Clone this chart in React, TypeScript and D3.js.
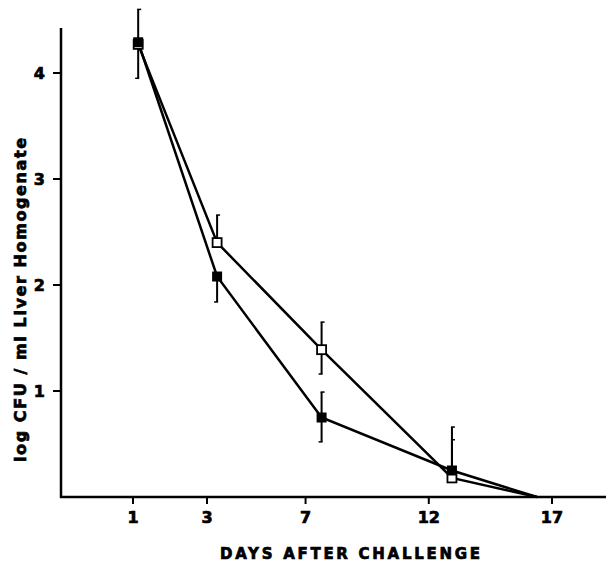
import React from "react";
import * as d3 from "d3";

// Tick labels on the x axis (days after challenge)
const xTickValues = [1, 3, 7, 12, 17];
const yTickValues = [1, 2, 3, 4];

// Sample positions
const sampleDays = [1.14, 3.41, 7.65, 12.94, 16.39];

// Filled-square series
const filledValues = [4.29, 2.08, 0.75, 0.25, 0];
const filledHigh: (number | null)[] = [4.6, null, 0.99, 0.66, null];
const filledLow: (number | null)[] = [3.95, 1.84, 0.52, null, null];

// Open-square series
const openValues = [4.27, 2.4, 1.39, 0.18, 0];
const openHigh: (number | null)[] = [null, 2.66, 1.65, 0.54, null];
const openLow: (number | null)[] = [null, null, 1.16, null, null];

const W = 606;
const H = 563;
const FONT = "'DejaVu Sans', 'Liberation Sans', sans-serif";

export default function App() {
  const x = d3.scaleLinear().domain([1, 3, 17]).range([133, 207, 552]);
  const y = d3.scaleLinear().domain([0, 4]).range([497, 73]);
  const axisLeft = 61;
  const axisBottom = y(0);

  const line = d3
    .line<number>()
    .x((_, i) => x(sampleDays[i]))
    .y((d) => y(d));

  const bars = (vals: number[], hi: (number | null)[], lo: (number | null)[], key: string) =>
    vals.map((v, i) => {
      const cx = x(sampleDays[i]);
      const els: React.ReactNode[] = [];
      if (hi[i] != null) {
        const yt = y(hi[i] as number);
        els.push(
          <g key={`${key}h${i}`}>
            <line x1={cx} x2={cx} y1={y(v)} y2={yt} stroke="#000" strokeWidth={2} />
            <line x1={cx - 1} x2={cx + 3} y1={yt} y2={yt} stroke="#000" strokeWidth={1.5} />
          </g>
        );
      }
      if (lo[i] != null) {
        const yb = y(lo[i] as number);
        els.push(
          <g key={`${key}l${i}`}>
            <line x1={cx} x2={cx} y1={y(v)} y2={yb} stroke="#000" strokeWidth={2} />
            <line x1={cx - 3} x2={cx + 1} y1={yb} y2={yb} stroke="#000" strokeWidth={1.5} />
          </g>
        );
      }
      return els;
    });

  const lastIdx = sampleDays.length - 1;
  const heavy = { stroke: "#000", strokeWidth: 0.7 };

  return (
    <svg
      width={W}
      height={H}
      viewBox={`0 0 ${W} ${H}`}
      style={{ position: "absolute", left: 0, top: 0, background: "#fff" }}
    >
      <rect x={0} y={0} width={W} height={H} fill="#fff" />
      {/* axes */}
      <line x1={axisLeft} x2={axisLeft} y1={28} y2={axisBottom + 1} stroke="#000" strokeWidth={2.5} />
      <line x1={axisLeft - 1} x2={W} y1={axisBottom} y2={axisBottom} stroke="#000" strokeWidth={2.5} />

      {/* y ticks */}
      {yTickValues.map((t) => (
        <g key={`yt${t}`}>
          <line x1={axisLeft - 8} x2={axisLeft} y1={y(t)} y2={y(t)} stroke="#000" strokeWidth={2} />
          <text
            x={45}
            y={y(t) + 6}
            textAnchor="end"
            fontFamily={FONT}
            fontWeight="bold"
            fontSize={16}
            {...heavy}
          >
            {t}
          </text>
        </g>
      ))}

      {/* x ticks */}
      {xTickValues.map((t) => (
        <g key={`xt${t}`}>
          <line x1={x(t)} x2={x(t)} y1={axisBottom} y2={axisBottom + 7} stroke="#000" strokeWidth={2} />
          <text
            x={x(t)}
            y={523}
            textAnchor="middle"
            fontFamily={FONT}
            fontWeight="bold"
            fontSize={16}
            {...heavy}
          >
            {t}
          </text>
        </g>
      ))}

      {/* axis titles */}
      <text
        x={220}
        y={559}
        textLength={260}
        lengthAdjust="spacing"
        fontFamily={FONT}
        fontWeight="bold"
        fontSize={15}
        {...heavy}
      >
        DAYS AFTER CHALLENGE
      </text>
      <text
        transform="translate(26,462) rotate(-90)"
        x={0}
        y={0}
        textLength={324}
        lengthAdjust="spacing"
        fontFamily={FONT}
        fontWeight="bold"
        fontSize={16}
        {...heavy}
      >
        log CFU / ml Liver Homogenate
      </text>

      {/* lines */}
      <path d={line(openValues) || ""} fill="none" stroke="#000" strokeWidth={2.5} />
      <path d={line(filledValues) || ""} fill="none" stroke="#000" strokeWidth={2.5} />

      {/* error bars */}
      {bars(openValues, openHigh, openLow, "o")}
      {bars(filledValues, filledHigh, filledLow, "f")}

      {/* markers */}
      {openValues.map((v, i) =>
        i === lastIdx ? null : (
          <rect
            key={`om${i}`}
            x={x(sampleDays[i]) - 4.5}
            y={y(v) - 4.5}
            width={9}
            height={9}
            fill="#fff"
            stroke="#000"
            strokeWidth={1.8}
          />
        )
      )}
      {filledValues.map((v, i) =>
        i === lastIdx ? null : (
          <rect
            key={`fm${i}`}
            x={x(sampleDays[i]) - 5}
            y={y(v) - 5}
            width={10}
            height={10}
            fill="#000"
          />
        )
      )}
    </svg>
  );
}
